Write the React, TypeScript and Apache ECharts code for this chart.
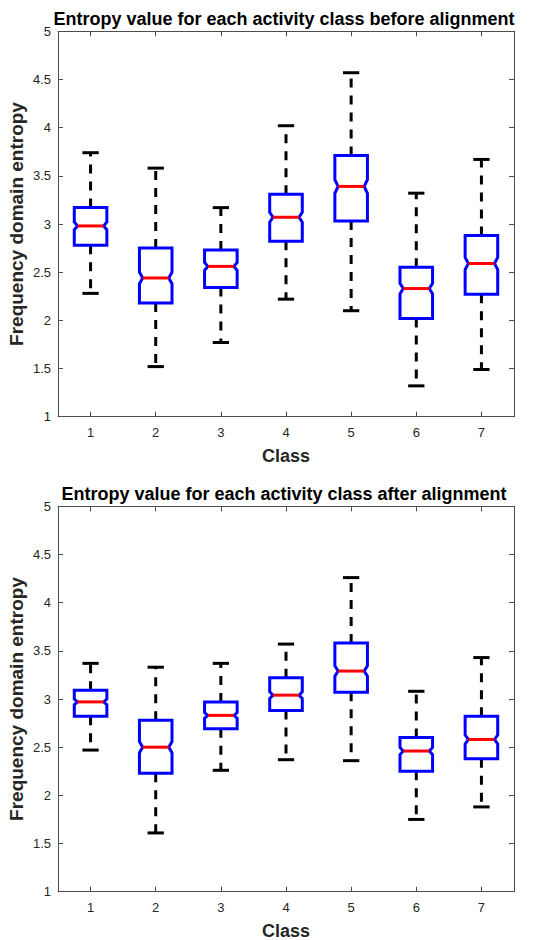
import React, { useEffect, useRef } from "react";
import * as echarts from "echarts";

const classes = [1, 2, 3, 4, 5, 6, 7];

// Before alignment
const beforeLower = [2.28, 1.52, 1.77, 2.22, 2.1, 1.32, 1.49];
const beforeQ1 = [2.78, 2.18, 2.34, 2.82, 3.03, 2.02, 2.27];
const beforeMedian = [2.98, 2.44, 2.56, 3.07, 3.39, 2.33, 2.59];
const beforeQ3 = [3.17, 2.75, 2.73, 3.31, 3.71, 2.55, 2.88];
const beforeUpper = [3.74, 3.58, 3.17, 4.02, 4.57, 3.32, 3.67];

// After alignment
const afterLower = [2.47, 1.61, 2.26, 2.37, 2.36, 1.75, 1.88];
const afterQ1 = [2.82, 2.23, 2.69, 2.88, 3.07, 2.25, 2.38];
const afterMedian = [2.97, 2.5, 2.83, 3.04, 3.29, 2.46, 2.58];
const afterQ3 = [3.09, 2.78, 2.97, 3.22, 3.58, 2.6, 2.82];
const afterUpper = [3.37, 3.33, 3.37, 3.57, 4.26, 3.08, 3.43];

const samplesPerClass = 225;

const yTicks = [1, 1.5, 2, 2.5, 3, 3.5, 4, 4.5, 5];

const titles = [
  "Entropy value for each activity class before alignment",
  "Entropy value for each activity class after alignment",
];

function buildData(lo: number[], q1: number[], med: number[], q3: number[], hi: number[]) {
  return classes.map((c, i) => {
    const notch = (1.57 * (q3[i] - q1[i])) / Math.sqrt(samplesPerClass);
    return [c, lo[i], q1[i], med[i], q3[i], hi[i], notch];
  });
}

const AXIS_COLOR = "#4d4d4d";
const LABEL_COLOR = "#262626";
const FONT = "'Liberation Sans', Arial, Helvetica, sans-serif";

function renderBox(params: any, api: any) {
  const x = api.value(0);
  const lo = api.value(1);
  const q1 = api.value(2);
  const med = api.value(3);
  const q3 = api.value(4);
  const hi = api.value(5);
  const notch = api.value(6);
  const hw = api.size([0.25, 0])[0];
  const capW = hw / 2;
  const inset = api.size([0.05, 0])[0];
  const c = api.coord([x, med]);
  const cx = c[0];
  const yMed = c[1];
  const yQ1 = api.coord([x, q1])[1];
  const yQ3 = api.coord([x, q3])[1];
  const yLo = api.coord([x, lo])[1];
  const yHi = api.coord([x, hi])[1];
  const yNLo = api.coord([x, med - notch])[1];
  const yNHi = api.coord([x, med + notch])[1];
  const dashStyle = { stroke: "#000", lineWidth: 3, lineDash: [9, 8], fill: null };
  return {
    type: "group",
    children: [
      { type: "line", shape: { x1: cx, y1: yQ3, x2: cx, y2: yHi }, style: dashStyle },
      { type: "line", shape: { x1: cx, y1: yQ1, x2: cx, y2: yLo }, style: dashStyle },
      {
        type: "polygon",
        shape: {
          points: [
            [cx - hw, yQ1],
            [cx + hw, yQ1],
            [cx + hw, yNLo],
            [cx + hw - inset, yMed],
            [cx + hw, yNHi],
            [cx + hw, yQ3],
            [cx - hw, yQ3],
            [cx - hw, yNHi],
            [cx - hw + inset, yMed],
            [cx - hw, yNLo],
          ],
        },
        style: { stroke: "#0000ff", lineWidth: 3, fill: null, lineJoin: "miter" },
      },
      {
        type: "line",
        shape: { x1: cx - hw + inset, y1: yMed, x2: cx + hw - inset, y2: yMed },
        style: { stroke: "#ff0000", lineWidth: 3 },
      },
      {
        type: "line",
        shape: { x1: cx - capW, y1: yHi, x2: cx + capW, y2: yHi },
        style: { stroke: "#000", lineWidth: 3 },
      },
      {
        type: "line",
        shape: { x1: cx - capW, y1: yLo, x2: cx + capW, y2: yLo },
        style: { stroke: "#000", lineWidth: 3 },
      },
    ],
  };
}

export default function App() {
  const ref = useRef<HTMLDivElement>(null);
  useEffect(() => {
    if (!ref.current) return;
    const chart = echarts.init(ref.current, undefined, { renderer: "svg" });
    const gridTops = [31.3, 506.3];
    const gridH = 385.4;
    const grids = gridTops.map((t) => ({ left: 58, top: t, width: 456, height: gridH }));
    const xAxes: any[] = [];
    const yAxes: any[] = [];
    grids.forEach((_, gi) => {
      const line = { show: true, onZero: false, lineStyle: { color: AXIS_COLOR, width: 1 } };
      xAxes.push({
        type: "value",
        gridIndex: gi,
        min: 0.5,
        max: 7.5,
        position: "bottom",
        axisLine: line,
        axisTick: { show: true, inside: true, length: 5, customValues: classes, lineStyle: { color: AXIS_COLOR } },
        axisLabel: { show: true, customValues: classes, margin: 9, color: LABEL_COLOR, fontSize: 13, fontFamily: FONT },
        splitLine: { show: false },
      });
      xAxes.push({
        type: "value",
        gridIndex: gi,
        min: 0.5,
        max: 7.5,
        position: "top",
        axisLine: line,
        axisTick: { show: true, inside: true, length: 5, customValues: classes, lineStyle: { color: AXIS_COLOR } },
        axisLabel: { show: false },
        splitLine: { show: false },
      });
      yAxes.push({
        type: "value",
        gridIndex: gi,
        min: 1,
        max: 5,
        interval: 0.5,
        position: "left",
        axisLine: line,
        axisTick: { show: true, inside: true, length: 5, lineStyle: { color: AXIS_COLOR } },
        axisLabel: { show: true, margin: 7, color: LABEL_COLOR, fontSize: 13, fontFamily: FONT, customValues: yTicks },
        splitLine: { show: false },
      });
      yAxes.push({
        type: "value",
        gridIndex: gi,
        min: 1,
        max: 5,
        interval: 0.5,
        position: "right",
        axisLine: line,
        axisTick: { show: true, inside: true, length: 5, lineStyle: { color: AXIS_COLOR } },
        axisLabel: { show: false },
        splitLine: { show: false },
      });
    });

    const datasets = [
      buildData(beforeLower, beforeQ1, beforeMedian, beforeQ3, beforeUpper),
      buildData(afterLower, afterQ1, afterMedian, afterQ3, afterUpper),
    ];

    const series = datasets.map((d, gi) => ({
      type: "custom",
      xAxisIndex: gi * 2,
      yAxisIndex: gi * 2,
      renderItem: renderBox,
      data: d,
      encode: { x: 0, y: [1, 2, 3, 4, 5] },
      clip: false,
    }));

    const graphics: any[] = [];
    gridTops.forEach((t, gi) => {
      graphics.push({
        type: "text",
        x: 284,
        y: t - 12,
        style: {
          text: titles[gi],
          font: `bold 18px ${FONT}`,
          fill: "#000",
          textAlign: "center",
          textVerticalAlign: "middle",
        },
      });
      graphics.push({
        type: "text",
        x: 286,
        y: t + gridH + 39.5,
        style: {
          text: "Class",
          font: `bold 18px ${FONT}`,
          fill: LABEL_COLOR,
          textAlign: "center",
          textVerticalAlign: "middle",
        },
      });
      graphics.push({
        type: "text",
        x: 16,
        y: t + gridH / 2,
        rotation: Math.PI / 2,
        style: {
          text: "Frequency domain entropy",
          font: `bold 19px ${FONT}`,
          fill: LABEL_COLOR,
          textAlign: "center",
          textVerticalAlign: "middle",
        },
      });
    });

    chart.setOption({
      animation: false,
      backgroundColor: "#ffffff",
      grid: grids,
      xAxis: xAxes,
      yAxis: yAxes,
      series,
      graphic: graphics,
    });
    return () => chart.dispose();
  }, []);
  return (
    <div
      ref={ref}
      style={{ position: "absolute", left: 0, top: 0, width: 559, height: 940, background: "#fff" }}
    />
  );
}
